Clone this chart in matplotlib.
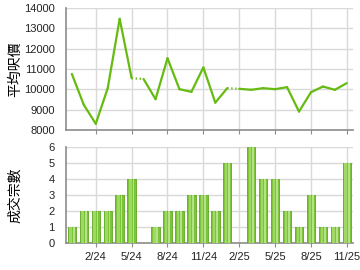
import matplotlib.pyplot as plt
import numpy as np

plt.rcParams['font.family'] = ['Liberation Sans', 'Noto Sans CJK TC']

months = ['12/23', '1/24', '2/24', '3/24', '4/24', '5/24', '6/24', '7/24', '8/24', '9/24',
          '10/24', '11/24', '12/24', '1/25', '2/25', '3/25', '4/25', '5/25', '6/25', '7/25',
          '8/25', '9/25', '10/25', '11/25']
price = [10750, 9230, 8300, 10050, 13460, 10540, 10500, 9510, 11520, 10000,
         9870, 11070, 9340, 10050, 10020, 9970, 10050, 10000, 10100, 8900,
         9850, 10130, 9970, 10300]
deals = [1, 2, 2, 2, 3, 4, 0, 1, 2, 2, 3, 3, 2, 5, 0, 6, 4, 4, 2, 1, 3, 1, 1, 5]
# segments drawn dotted (month with no deals)
dotted = [(5, 6), (13, 14)]

x = np.arange(len(months))
tick_idx = [2, 5, 8, 11, 14, 17, 20, 23]
green = '#66bb11'
grid_c = '#d9d9d9'
spine_c = '#8c8c8c'

fig = plt.figure(figsize=(3.6, 2.7), dpi=100)
ax1 = fig.add_axes([0.183, 0.519, 0.797, 0.452])
ax2 = fig.add_axes([0.183, 0.1, 0.797, 0.356])

for i in range(len(x) - 1):
    if (i, i + 1) in dotted:
        ax1.plot(x[i:i + 2], price[i:i + 2], color=green, lw=1.6, ls=(0, (0.6, 1.2)))
    else:
        ax1.plot(x[i:i + 2], price[i:i + 2], color=green, lw=1.6,
                 solid_capstyle='round')
ax1.set_ylim(8000, 14000)
ax1.set_yticks(range(8000, 14001, 1000))
ax1.set_xlim(-0.5, len(x) - 0.5)
ax1.set_xticks(tick_idx)
ax1.set_xticklabels([])
ax1.tick_params(axis='x', length=0)

nz = [i for i in x if deals[i] > 0]
dv = [deals[i] for i in nz]
nz = np.array(nz)
ax2.bar(nz, dv, width=0.7, color='#7cc43a', edgecolor='#5ea820', lw=0.6, zorder=3)
ax2.bar(nz - 0.1, dv, width=0.2, color='#9fd964', lw=0, zorder=4)
ax2.bar(nz + 0.15, dv, width=0.15, color='#b5e288', lw=0, zorder=4)
ax2.set_ylim(0, 6)
ax2.set_yticks(range(0, 7))
ax2.set_xlim(-0.5, len(x) - 0.5)
ax2.set_xticks(tick_idx)
ax2.set_xticklabels([months[i] for i in tick_idx])

fig.text(0.042, 0.745, '平均呎價', family=['Noto Sans CJK TC'], fontsize=10,
         rotation=90, ha='center', va='center')
fig.text(0.042, 0.278, '成交宗數', family=['Noto Sans CJK TC'], fontsize=10,
         rotation=90, ha='center', va='center')

for ax in (ax1, ax2):
    ax.grid(True, color=grid_c, lw=1)
    ax.set_axisbelow(True)
    for s in ('top', 'right'):
        ax.spines[s].set_visible(False)
    for s in ('left', 'bottom'):
        ax.spines[s].set_color(spine_c)
        ax.spines[s].set_linewidth(1.2)
    ax.tick_params(labelsize=8, colors='#222222', length=3)
    ax.tick_params(axis='y', length=0, pad=8)
    ax.tick_params(axis='x', color=spine_c)

fig.savefig('out.png', dpi=100)
